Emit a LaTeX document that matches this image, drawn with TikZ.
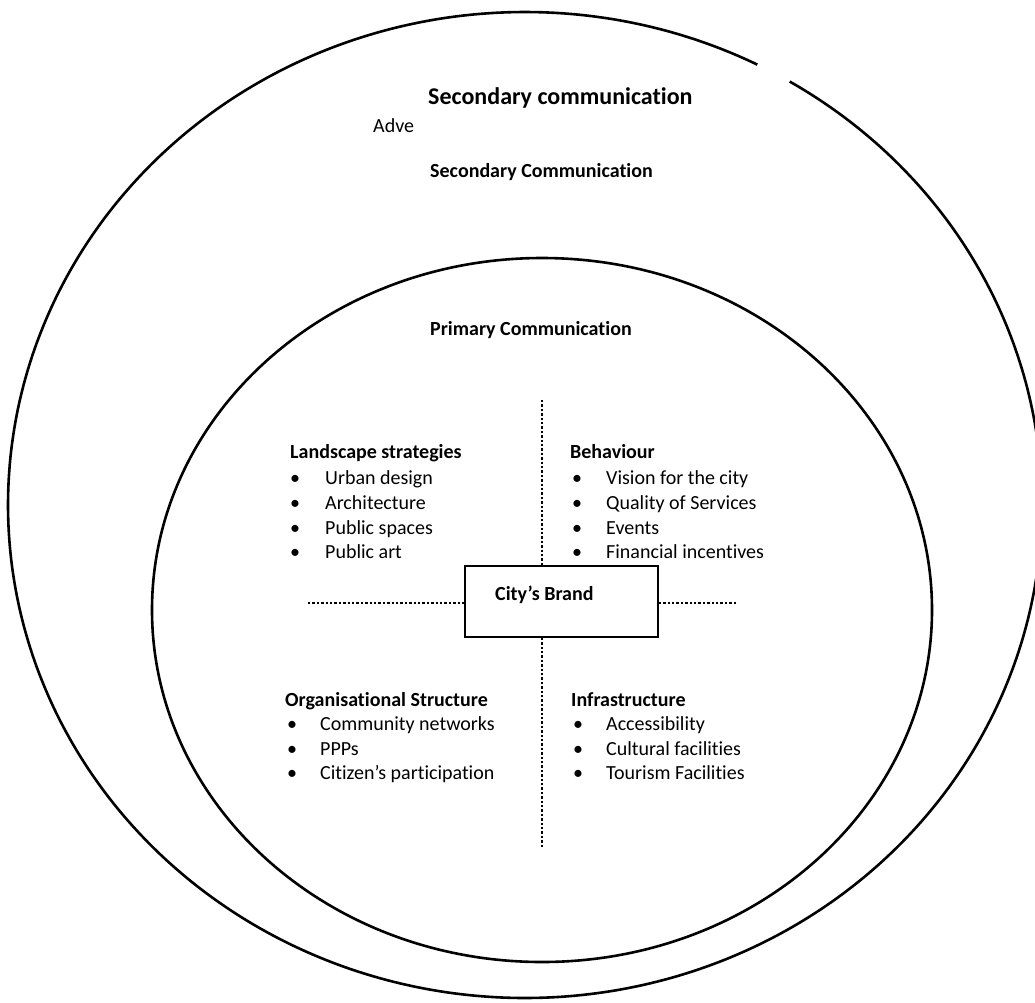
\documentclass[tikz,border=0pt]{standalone}
\usepackage{fontspec}
\setmainfont{Carlito}[Ligatures={NoCommon}]
\begin{document}
\begin{tikzpicture}[x=1pt,y=-1pt,
  ring/.style={line width=2.6pt, black},
  dots/.style={line width=2.6pt, dash pattern=on 2.4pt off 2pt},
  brandbox/.style={draw, line width=2.6pt, minimum width=193pt, minimum height=71pt, inner sep=0pt},
  bighead/.style={font=\fontsize{24}{28}\selectfont\bfseries, anchor=base west, inner sep=0pt},
  head/.style={font=\fontsize{20}{24}\selectfont\bfseries, anchor=base west, inner sep=0pt},
  item/.style={font=\fontsize{20}{24}\selectfont, anchor=base west, inner sep=0pt},
]
\useasboundingbox (0,0) rectangle (1035,1002);
\clip (0,0) rectangle (1035,1002);
% outer ring with a small gap at top right
\draw[ring] plot[domain=-59.2:296.7, samples=300, smooth] ({525+517*cos(\x)}, {505+493*sin(\x)});
% inner ring
\draw[ring] (542,610) ellipse [x radius=390pt, y radius=352pt];

\node[bighead] (sc1) at (428,104) {Secondary communication};
\node[item] (adve) at (373,132) {Adve};
\node[head] (sc2) at (430,177) {Secondary Communication};
\node[head] (pc) at (430,335) {Primary Communication};

% centre box
\node[brandbox] (brand) at (561.5,601.5) {};
\node[head] (brandlbl) at (495,600) {City’s Brand};

\coordinate (hl) at (308,603);
\coordinate (hr) at (736,603);
\coordinate (vt) at (542,400);
\coordinate (vb) at (542,847);
\draw[dots] (hl) -- (hl -| brand.west);
\draw[dots] (hr) -- (hr -| brand.east);
\draw[dots] (vt) -- (vt |- brand.north);
\draw[dots] (vb) -- (vb |- brand.south);

% quadrant lists
\node[head] (ls) at (290,458) {Landscape strategies};
\node[item] (ls1b) at (290,484) {•}; \node[item] (ls1) at (325,484) {Urban design};
\node[item] (ls2b) at (290,509) {•}; \node[item] (ls2) at (325,509) {Architecture};
\node[item] (ls3b) at (290,534) {•}; \node[item] (ls3) at (325,534) {Public spaces};
\node[item] (ls4b) at (290,558) {•}; \node[item] (ls4) at (325,558) {Public art};

\node[head] (bh) at (570,458) {Behaviour};
\node[item] (bh1b) at (572,484) {•}; \node[item] (bh1) at (606,484) {Vision for the city};
\node[item] (bh2b) at (572,509) {•}; \node[item] (bh2) at (606,509) {Quality of Services};
\node[item] (bh3b) at (572,534) {•}; \node[item] (bh3) at (606,534) {Events};
\node[item] (bh4b) at (572,558) {•}; \node[item] (bh4) at (606,558) {Financial incentives};

\node[head] (os) at (285,706) {Organisational Structure};
\node[item] (os1b) at (287,730) {•}; \node[item] (os1) at (320,730) {Community networks};
\node[item] (os2b) at (287,755) {•}; \node[item] (os2) at (320,755) {PPPs};
\node[item] (os3b) at (287,779) {•}; \node[item] (os3) at (320,779) {Citizen’s participation};

\node[head] (inf) at (571,706) {Infrastructure};
\node[item] (inf1b) at (573,730) {•}; \node[item] (inf1) at (606,730) {Accessibility};
\node[item] (inf2b) at (573,755) {•}; \node[item] (inf2) at (606,755) {Cultural facilities};
\node[item] (inf3b) at (573,779) {•}; \node[item] (inf3) at (606,779) {Tourism Facilities};
\end{tikzpicture}
\end{document}
